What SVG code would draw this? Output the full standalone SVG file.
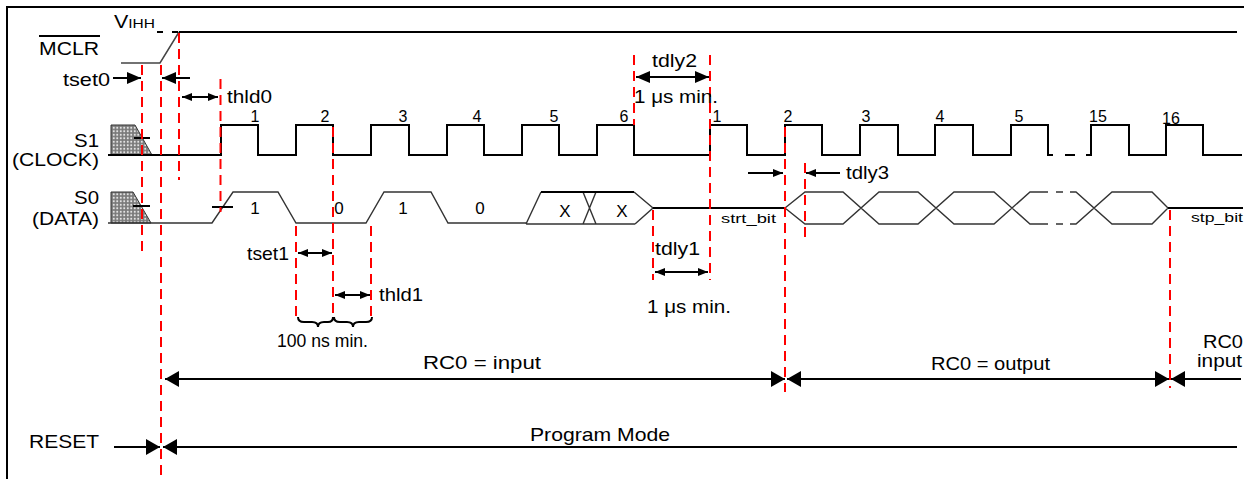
<svg xmlns="http://www.w3.org/2000/svg" width="1251" height="479" viewBox="0 0 1251 479">
<style>
text{font-family:"Liberation Sans",Arial,sans-serif;fill:#000}
.lb{font-size:18.5px}
.sm{font-size:13.5px}
.num{font-size:16px;text-anchor:middle}
.dat{font-size:17px;text-anchor:middle}
.w{fill:none;stroke:#000;stroke-width:2}
.d{fill:none;stroke:#333;stroke-width:1.4}
.r{fill:none;stroke:#f00;stroke-width:2;stroke-dasharray:10 6}
.a{fill:none;stroke:#000;stroke-width:2}
.ab{fill:none;stroke:#000;stroke-width:2;marker-end:url(#big)}
.as{fill:none;stroke:#000;stroke-width:2;marker-start:url(#sm);marker-end:url(#sm)}
.ad{fill:none;stroke:#000;stroke-width:2;marker-start:url(#big);marker-end:url(#big)}
.hat{fill:url(#hatch);stroke:#333;stroke-width:1}
</style>
<defs>
<pattern id="hatch" width="3.5" height="3.5" patternUnits="userSpaceOnUse">
<rect width="3.5" height="3.5" fill="#7a7a7a"/>
<circle cx="1.75" cy="1.75" r="1.05" fill="#e6e6e6"/>
</pattern>
<marker id="big" viewBox="0 0 14 12" refX="14" refY="6" markerWidth="14" markerHeight="12" markerUnits="userSpaceOnUse" orient="auto-start-reverse">
<path d="M0,0 L14,6 L0,12z" fill="#000"/>
</marker>
<marker id="bg2" viewBox="0 0 14 16" refX="14" refY="8" markerWidth="14" markerHeight="16" markerUnits="userSpaceOnUse" orient="auto-start-reverse">
<path d="M0,0 L14,8 L0,16z" fill="#000"/>
</marker>
<marker id="sm" viewBox="0 0 10 8" refX="10" refY="4" markerWidth="10" markerHeight="8" markerUnits="userSpaceOnUse" orient="auto-start-reverse">
<path d="M0,0 L10,4 L0,8z" fill="#000"/>
</marker>
</defs>

<g id="frame">
<path d="M7,479 V7 H1244" fill="none" stroke="#000" stroke-width="2"/>
</g>

<g id="mclr">
<text class="lb" x="39" y="55" textLength="60" lengthAdjust="spacingAndGlyphs">MCLR</text>
<line x1="39" y1="36" x2="100" y2="36" stroke="#000" stroke-width="2"/>
<text x="114" y="28" textLength="41" lengthAdjust="spacingAndGlyphs"><tspan font-size="18">V</tspan><tspan font-size="13">IHH</tspan></text>
<path d="M121,63 H160 L179,32" fill="none" stroke="#444" stroke-width="1.5"/>
<path d="M179,32 H1237" class="w"/>
<path d="M157,32 H163 M172,32 H178" class="w"/>
</g>

<g id="s1">
<text class="lb" x="74" y="147" textLength="25" lengthAdjust="spacingAndGlyphs">S1</text>
<text class="lb" x="12" y="166" textLength="87" lengthAdjust="spacingAndGlyphs">(CLOCK)</text>
<polygon class="hat" points="111,125 135,125 152,155 111,155"/>
<line x1="134" y1="138" x2="150" y2="138" stroke="#000" stroke-width="2"/>
<path class="w" d="M108,155 H221 V125 H258 V155 H296 V125 H333 V155 H371 V125 H409 V155 H447 V125 H484 V155 H522 V125 H559 V155 H597 V125 H634 V155 H710 V125 H747 V155 H785 V125 H822 V155 H860 V125 H898 V155 H935 V125 H973 V155 H1011 V125 H1048 V155 H1053 M1065,155 H1075 M1086,155 H1091 V125 H1129 V155 H1166 V125 H1203 V155 H1242"/>
<text class="num" x="255" y="122">1</text>
<text class="num" x="325" y="122">2</text>
<text class="num" x="403" y="122">3</text>
<text class="num" x="477" y="122">4</text>
<text class="num" x="554" y="122">5</text>
<text class="num" x="624" y="122">6</text>
<text class="num" x="717" y="122">1</text>
<text class="num" x="788" y="122">2</text>
<text class="num" x="866" y="122">3</text>
<text class="num" x="940" y="122">4</text>
<text class="num" x="1019" y="122">5</text>
<text class="num" x="1098" y="122">15</text>
<text class="num" x="1171" y="124">16</text>
</g>

<g id="s0">
<text class="lb" x="74" y="204" textLength="25" lengthAdjust="spacingAndGlyphs">S0</text>
<text class="lb" x="32" y="225" textLength="67" lengthAdjust="spacingAndGlyphs">(DATA)</text>
<polygon class="hat" points="111,192 133,192 151,223 111,223"/>
<line x1="133" y1="206" x2="150" y2="206" stroke="#000" stroke-width="2"/>
<path class="d" d="M108,223 H212 L233,192 H278 L296,223 H366 L384,192 H431 L448,223 H526"/>
<line x1="212" y1="207" x2="233" y2="207" stroke="#000" stroke-width="2"/>
<path class="d" d="M526,224 L541,192 M635,224 H526 M583,192 L596,224 M596,192 L583,224 M634,192 L653,208 L635,224"/>
<path class="w" d="M541,192 H634"/>
<path class="w" d="M653,208 H785"/>
<path class="d" d="M785,208 L805,192 H843 L879,224 H918 L954,192 H994 L1030,224 H1048 M785,208 L805,224 H843 L879,192 H918 L954,224 H994 L1030,192 H1048 M1056,192 H1063 M1056,224 H1063 M1070,192 H1076 L1112,224 H1152 L1168,208 M1070,224 H1076 L1112,192 H1152 L1168,208"/>
<path class="w" d="M1168,208 H1243"/>
<text class="dat" x="255" y="214">1</text>
<text class="dat" x="339" y="214">0</text>
<text class="dat" x="403" y="214">1</text>
<text class="dat" x="480" y="214">0</text>
<text class="dat" x="565" y="217">X</text>
<text class="dat" x="622" y="217">X</text>
<text class="sm" x="721" y="223" textLength="55" lengthAdjust="spacingAndGlyphs">strt_bit</text>
<text class="sm" x="1191" y="222" textLength="52" lengthAdjust="spacingAndGlyphs">stp_bit</text>
</g>

<g id="reset">
<text class="lb" x="29" y="448" textLength="70" lengthAdjust="spacingAndGlyphs">RESET</text>
</g>

<g id="connectors">
<line class="r" x1="142" y1="65" x2="142" y2="255"/>
<line class="r" x1="161" y1="65" x2="161" y2="479"/>
<line class="r" x1="179" y1="33" x2="179" y2="180"/>
<line class="r" x1="220.5" y1="79" x2="220.5" y2="212"/>
<line class="r" x1="296" y1="226" x2="296" y2="318"/>
<line class="r" x1="333" y1="127" x2="333" y2="318"/>
<line class="r" x1="371" y1="226" x2="371" y2="318"/>
<line class="r" x1="634" y1="55" x2="634" y2="125"/>
<line class="r" x1="653" y1="210" x2="653" y2="280"/>
<line class="r" x1="710" y1="55" x2="710" y2="280"/>
<line class="r" x1="785" y1="127" x2="785" y2="392"/>
<line class="r" x1="805" y1="163" x2="805" y2="240"/>
<line class="r" x1="1170" y1="210" x2="1170" y2="388"/>

<line class="ab" x1="113" y1="78" x2="141" y2="78"/>
<line class="ab" x1="190" y1="78" x2="162" y2="78"/>
<text class="lb" x="63" y="86" textLength="47" lengthAdjust="spacingAndGlyphs">tset0</text>

<line class="as" x1="182" y1="97" x2="218" y2="97"/>
<text class="lb" x="227" y="103" textLength="45" lengthAdjust="spacingAndGlyphs">thld0</text>

<line class="ad" x1="636" y1="77" x2="709" y2="77"/>
<text class="lb" x="652" y="67" textLength="45" lengthAdjust="spacingAndGlyphs">tdly2</text>
<text class="lb" x="634" y="103" textLength="84" lengthAdjust="spacingAndGlyphs">1 μs min.</text>

<line class="a" x1="748" y1="173" x2="783" y2="173" style="marker-end:url(#sm)"/>
<line class="a" x1="840" y1="173" x2="806" y2="173" style="marker-end:url(#sm)"/>
<text class="lb" x="846" y="179" textLength="43" lengthAdjust="spacingAndGlyphs">tdly3</text>

<line class="as" x1="298" y1="253" x2="332" y2="253"/>
<text class="lb" x="247" y="260" textLength="42" lengthAdjust="spacingAndGlyphs">tset1</text>
<line class="as" x1="335" y1="295" x2="370" y2="295"/>
<text class="lb" x="379" y="301" textLength="44" lengthAdjust="spacingAndGlyphs">thld1</text>
<path d="M298,317 Q298,322 304,322 H312 Q318,322 318,327 Q318,322 324,322 H328 Q333,322 333,317 M334,317 Q334,322 340,322 H347 Q353,322 353,327 Q353,322 359,322 H366 Q372,322 372,317" fill="none" stroke="#000" stroke-width="2"/>
<text class="lb" x="277" y="347" textLength="91" lengthAdjust="spacingAndGlyphs">100 ns min.</text>

<line class="as" x1="655" y1="272" x2="708" y2="272"/>
<text class="lb" x="655" y="255" textLength="45" lengthAdjust="spacingAndGlyphs">tdly1</text>
<text class="lb" x="647" y="313" textLength="84" lengthAdjust="spacingAndGlyphs">1 μs min.</text>

<line x1="165" y1="379" x2="785" y2="379" stroke="#000" stroke-width="2" style="marker-start:url(#bg2);marker-end:url(#bg2)"/>
<text class="lb" x="423" y="369" textLength="118" lengthAdjust="spacingAndGlyphs">RC0 = input</text>
<line x1="787" y1="379" x2="1169" y2="379" stroke="#000" stroke-width="2" style="marker-start:url(#bg2);marker-end:url(#bg2)"/>
<text class="lb" x="931" y="370" textLength="119" lengthAdjust="spacingAndGlyphs">RC0 = output</text>
<line x1="1241" y1="379" x2="1171" y2="379" stroke="#000" stroke-width="2" style="marker-end:url(#bg2)"/>
<text class="lb" x="1203" y="348" textLength="40" lengthAdjust="spacingAndGlyphs">RC0</text>
<text class="lb" x="1197" y="367" textLength="45" lengthAdjust="spacingAndGlyphs">input</text>

<line x1="114" y1="447" x2="160" y2="447" stroke="#000" stroke-width="2" style="marker-end:url(#bg2)"/>
<line x1="1237" y1="447" x2="163" y2="447" stroke="#000" stroke-width="2" style="marker-end:url(#bg2)"/>
<text class="lb" x="530" y="441" textLength="140" lengthAdjust="spacingAndGlyphs">Program Mode</text>
</g>
</svg>
